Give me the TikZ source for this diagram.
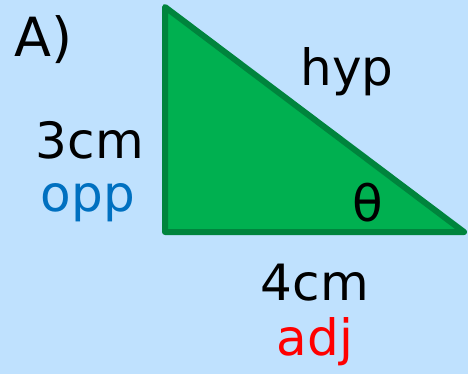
\documentclass[tikz,border=0pt]{standalone}
\usepackage{fontspec}
\setmainfont{DejaVu Sans}
\usetikzlibrary{positioning}
\definecolor{skyBg}{RGB}{191, 225, 254}
\definecolor{triFill}{RGB}{0, 176, 80}
\definecolor{triEdge}{RGB}{0, 132, 61}
\definecolor{oppBlue}{RGB}{0, 112, 192}
\definecolor{adjRed}{RGB}{255, 0, 0}
\begin{document}
\begin{tikzpicture}[
            x=1pt, y=-1pt,
            lbl/.style={inner sep=0pt, font=\fontsize{50}{52}\selectfont},
            tri/.style={fill=triFill, draw=triEdge, line width=6pt, line join=round}
        ]
            \fill[skyBg] (0,0) rectangle (468,374);
            \useasboundingbox (0,0) rectangle (468,374);

            \coordinate (top) at (165,7);
            \coordinate (rgt) at (165,232);
            \coordinate (end) at (464,232);
            \draw[tri] (top) -- (rgt) -- (end) -- cycle;

            \node[lbl, font=\fontsize{54}{56}\selectfont] (title) at (44,40) {A)};
            \node[lbl] (hyp) at (347,72) {hyp};
            \node[lbl] (opp3) at (90,140) {3cm};
            \node[lbl, text=oppBlue] (opp) at (88,203) {opp};
            \node[lbl] (theta) at (368,203) {θ};
            \node[lbl] (adj4) at (315,283) {4cm};
            \node[lbl, text=adjRed] (adj) at (315,342) {adj};
        \end{tikzpicture}
\end{document}
